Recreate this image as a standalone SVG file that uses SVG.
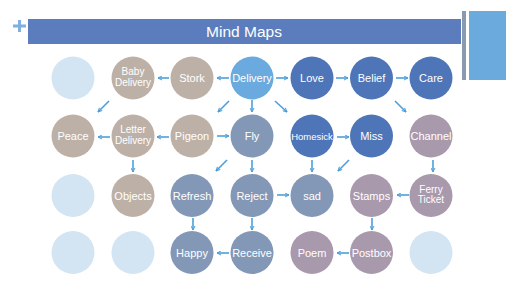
<svg xmlns="http://www.w3.org/2000/svg" width="525" height="294" viewBox="0 0 525 294">
<style>
text{font-family:"Liberation Sans",Arial,sans-serif;fill:#fff;text-anchor:middle}
.t{font-size:11px}
.s{font-size:9.5px}
.w{font-size:10px}
.e{fill:#d3e4f3}
.tp{fill:#bdb1a7}
.dl{fill:#6aaade}
.db{fill:#4f75b9}
.sl{fill:#8398b6}
.mv{fill:#a999ac}
.c line{stroke:#4d9fd9;stroke-width:1.6;marker-end:url(#ah)}
</style>
<defs>
<marker id="ah" viewBox="0 0 10 10" refX="9" refY="5" markerWidth="5" markerHeight="5" orient="auto" markerUnits="userSpaceOnUse">
<path d="M1,1 L9,5 L1,9" fill="none" stroke="#4d9fd9" stroke-width="2"/>
</marker>
</defs>
<rect width="525" height="294" fill="#fff"/>
<g id="header">
<rect x="28" y="19" width="433" height="25" fill="#5b7dbd"/>
<text x="244" y="37" style="font-size:15.5px">Mind Maps</text>
<path d="M13,26 H26 M19.5,20 V32" stroke="#7fb0e0" stroke-width="3"/>
<rect x="462" y="11" width="4" height="69" fill="#8a9bb0"/>
<rect x="469" y="11" width="37" height="69" fill="#6aaadd"/>
</g>
<g class="c" id="connectors">
<line x1="229" y1="78" x2="217" y2="78"/>
<line x1="169" y1="78" x2="158" y2="78"/>
<line x1="276" y1="78" x2="288" y2="78"/>
<line x1="336" y1="78" x2="348" y2="78"/>
<line x1="396" y1="78" x2="408" y2="78"/>
<line x1="109" y1="101" x2="98" y2="112"/>
<line x1="229" y1="101" x2="218" y2="112"/>
<line x1="252" y1="100" x2="252" y2="112"/>
<line x1="275" y1="101" x2="287" y2="112"/>
<line x1="395" y1="101" x2="406" y2="112"/>
<line x1="169" y1="137" x2="157" y2="137"/>
<line x1="110" y1="137" x2="98" y2="137"/>
<line x1="217" y1="136" x2="229" y2="136"/>
<line x1="337" y1="137" x2="349" y2="137"/>
<line x1="133" y1="160" x2="133" y2="172"/>
<line x1="227" y1="160" x2="216" y2="171"/>
<line x1="252" y1="160" x2="252" y2="172"/>
<line x1="312" y1="160" x2="312" y2="172"/>
<line x1="349" y1="160" x2="338" y2="171"/>
<line x1="433" y1="160" x2="433" y2="172"/>
<line x1="277" y1="195" x2="289" y2="195"/>
<line x1="409" y1="195" x2="397" y2="195"/>
<line x1="193" y1="218" x2="193" y2="230"/>
<line x1="252" y1="218" x2="252" y2="230"/>
<line x1="372" y1="218" x2="372" y2="230"/>
<line x1="229" y1="253" x2="217" y2="253"/>
<line x1="349" y1="253" x2="337" y2="253"/>
</g>
<g id="n-r1c1"><circle class="e" cx="73" cy="78" r="21.5"/></g>
<g id="n-baby"><circle class="tp" cx="133" cy="78" r="21.5"/><text class="w" x="133" y="75">Baby</text><text class="w" x="133" y="85.5">Delivery</text></g>
<g id="n-stork"><circle class="tp" cx="192" cy="78" r="21.5"/><text class="t" x="192" y="82">Stork</text></g>
<g id="n-delivery"><circle class="dl" cx="252" cy="78" r="21.5"/><text class="t" x="252" y="82">Delivery</text></g>
<g id="n-love"><circle class="db" cx="312" cy="78" r="21.5"/><text class="t" x="312" y="82">Love</text></g>
<g id="n-belief"><circle class="db" cx="371.5" cy="78" r="21.5"/><text class="t" x="371.5" y="82">Belief</text></g>
<g id="n-care"><circle class="db" cx="431" cy="78" r="21.5"/><text class="t" x="431" y="82">Care</text></g>
<g id="n-peace"><circle class="tp" cx="73" cy="136" r="21.5"/><text class="t" x="73" y="140">Peace</text></g>
<g id="n-letter"><circle class="tp" cx="133" cy="136" r="21.5"/><text class="w" x="133" y="133">Letter</text><text class="w" x="133" y="143.5">Delivery</text></g>
<g id="n-pigeon"><circle class="tp" cx="192" cy="136" r="21.5"/><text class="t" x="192" y="140">Pigeon</text></g>
<g id="n-fly"><circle class="sl" cx="252" cy="136" r="21.5"/><text class="t" x="252" y="140">Fly</text></g>
<g id="n-homesick"><circle class="db" cx="312" cy="136" r="21.5"/><text class="s" x="312" y="139.5">Homesick</text></g>
<g id="n-miss"><circle class="db" cx="371.5" cy="136" r="21.5"/><text class="t" x="371.5" y="140">Miss</text></g>
<g id="n-channel"><circle class="mv" cx="431" cy="136" r="21.5"/><text class="t" x="431" y="140">Channel</text></g>
<g id="n-r3c1"><circle class="e" cx="73" cy="195.5" r="21.5"/></g>
<g id="n-objects"><circle class="tp" cx="133" cy="195.5" r="21.5"/><text class="t" x="133" y="199.5">Objects</text></g>
<g id="n-refresh"><circle class="sl" cx="192" cy="195.5" r="21.5"/><text class="t" x="192" y="199.5">Refresh</text></g>
<g id="n-reject"><circle class="sl" cx="252" cy="195.5" r="21.5"/><text class="t" x="252" y="199.5">Reject</text></g>
<g id="n-sad"><circle class="sl" cx="312" cy="195.5" r="21.5"/><text class="t" x="312" y="199.5">sad</text></g>
<g id="n-stamps"><circle class="mv" cx="371.5" cy="195.5" r="21.5"/><text class="t" x="371.5" y="199.5">Stamps</text></g>
<g id="n-ferry"><circle class="mv" cx="431" cy="195.5" r="21.5"/><text class="w" x="431" y="192.5">Ferry</text><text class="w" x="431" y="203">Ticket</text></g>
<g id="n-r4c1"><circle class="e" cx="73" cy="252.5" r="21.5"/></g>
<g id="n-r4c2"><circle class="e" cx="133" cy="252.5" r="21.5"/></g>
<g id="n-happy"><circle class="sl" cx="192" cy="252.5" r="21.5"/><text class="t" x="192" y="256.5">Happy</text></g>
<g id="n-receive"><circle class="sl" cx="252" cy="252.5" r="21.5"/><text class="t" x="252" y="256.5">Receive</text></g>
<g id="n-poem"><circle class="mv" cx="312" cy="252.5" r="21.5"/><text class="t" x="312" y="256.5">Poem</text></g>
<g id="n-postbox"><circle class="mv" cx="371.5" cy="252.5" r="21.5"/><text class="t" x="371.5" y="256.5">Postbox</text></g>
<g id="n-r4c7"><circle class="e" cx="431" cy="252.5" r="21.5"/></g>
</svg>
